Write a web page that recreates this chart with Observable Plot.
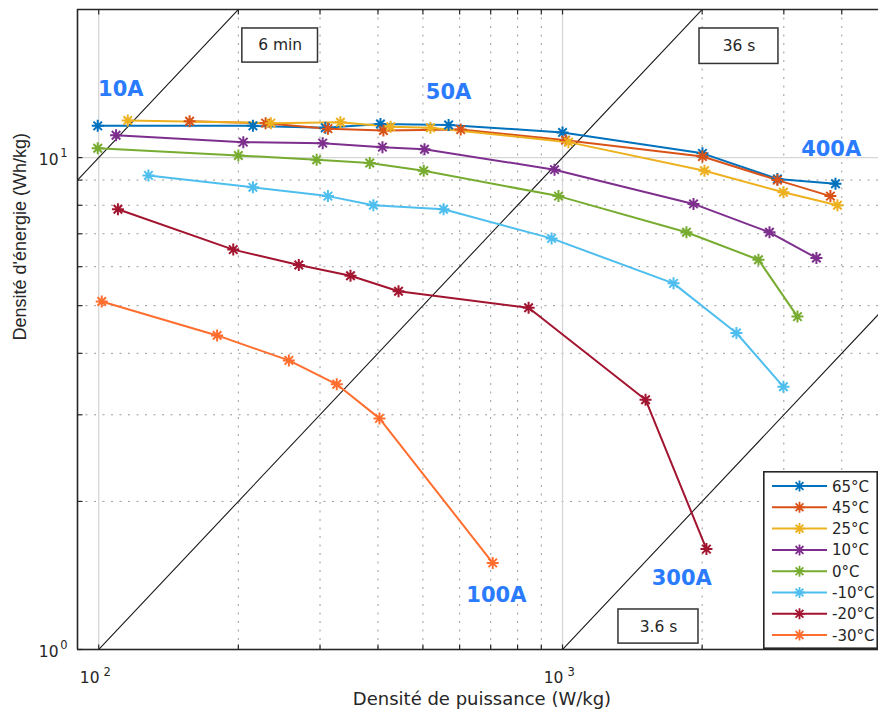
<!DOCTYPE html>
<html><head><meta charset="utf-8">
<script src="https://cdn.jsdelivr.net/npm/d3@7"></script>
<script src="https://cdn.jsdelivr.net/npm/@observablehq/plot@0.6"></script>
<style>
body{margin:0;background:#fff;}
#wrap{position:relative;width:878px;height:716px;overflow:hidden;font-family:"DejaVu Sans",sans-serif;}
#wrap svg{display:block;}
</style></head><body><div id="wrap"></div>
<script>
// ---- data ----
const seriesNames = ["65°C","45°C","25°C","10°C","0°C","-10°C","-20°C","-30°C"];
const seriesColors = ["#0072BD","#D95319","#EDB120","#7E2F8E","#77AC30","#4DBEEE","#A2142F","#FF6E2E"];

const p65 = [99.5, 215, 308, 405, 568, 1000, 2003, 2906, 3877];
const e65 = [11.6, 11.6, 11.5, 11.7, 11.65, 11.25, 10.2, 9.05, 8.85];
const p45 = [157, 229, 312, 411, 603, 1015, 2003, 2906, 3781];
const e45 = [11.85, 11.75, 11.45, 11.35, 11.4, 10.85, 10.05, 9.0, 8.35];
const p25 = [115.5, 235, 332, 426, 519, 1030, 2023, 2994, 3915];
const e25 = [11.9, 11.75, 11.8, 11.55, 11.5, 10.75, 9.4, 8.5, 8.0];
const p10 = [109, 205, 304, 409, 504, 961, 1916, 2794, 3527];
const e10 = [11.1, 10.75, 10.7, 10.5, 10.4, 9.45, 8.05, 7.05, 6.25];
const p0 = [99.5, 200, 295, 384, 502, 980, 1850, 2645, 3210];
const e0 = [10.45, 10.1, 9.9, 9.75, 9.4, 8.35, 7.05, 6.2, 4.75];
const pm10 = [128, 215, 312, 391, 554, 947, 1735, 2371, 2994];
const em10 = [9.2, 8.7, 8.35, 8.0, 7.85, 6.85, 5.55, 4.4, 3.42];
const pm20 = [110, 195, 270, 349, 443, 845, 1510, 2043];
const em20 = [7.85, 6.5, 6.05, 5.75, 5.35, 4.95, 3.22, 1.6];
const pm30 = [101.5, 180, 257, 326, 403, 707];
const em30 = [5.1, 4.35, 3.87, 3.46, 2.95, 1.5];

const powers = [p65, p45, p25, p10, p0, pm10, pm20, pm30];
const energies = [e65, e45, e25, e10, e0, em10, em20, em30];

// iso-duration lines (hours): 6 min, 36 s, 3.6 s
const timeHours = [0.1, 0.01, 0.001];
const boxLabels = ["6 min", "36 s", "3.6 s"];
const boxP1 = [204, 1974, 1320];
const boxP2 = [297, 2921, 1964];
const boxE1 = [15.6, 15.5, 1.028];
const boxE2 = [18.3, 18.3, 1.206];

const currentLabels = ["10A", "50A", "100A", "300A", "400A"];
const currentP = [111.6, 568, 720, 1807, 3795];
const currentE = [13.8, 13.6, 1.29, 1.395, 10.4];

const xMajor = [100, 1000];
const xMinor = [200,300,400,500,600,700,800,900,2000,3000,4000];
const yMajor = [1, 10];
const yMinor = [2,3,4,5,6,7,8,9];

const xLabel = "Densité de puissance (W/kg)";
const yLabel = "Densité d'énergie (Wh/kg)";

// ---- tables ----
const rows = seriesNames.flatMap((s, i) => powers[i].map((p, j) => ({series: s, P: p, E: energies[i][j]})));
const xDomain = [90, 4800];
const timeRows = timeHours.flatMap(t => xDomain.map(p => ({t, P: p, E: t * p})));
const boxes = boxLabels.map((l, i) => ({label: l, x1: boxP1[i], x2: boxP2[i], y1: boxE1[i], y2: boxE2[i]}));
const currents = currentLabels.map((l, i) => ({label: l, P: currentP[i], E: currentE[i]}));

const asterisk8 = {
  draw(ctx, size) {
    const r = Math.sqrt(size / Math.PI), d = r * Math.SQRT1_2;
    ctx.moveTo(-r, 0); ctx.lineTo(r, 0);
    ctx.moveTo(0, -r); ctx.lineTo(0, r);
    ctx.moveTo(-d, -d); ctx.lineTo(d, d);
    ctx.moveTo(-d, d); ctx.lineTo(d, -d);
  }
};
const tickUp = {draw(c){ c.moveTo(0,0); c.lineTo(0,-5); }};
const tickDown = {draw(c){ c.moveTo(0,0); c.lineTo(0,5); }};
const tickRight = {draw(c){ c.moveTo(0,0); c.lineTo(5,0); }};

const axisColor = "#262626";
const sans = '"DejaVu Sans", sans-serif';
const allX = xMajor.concat(xMinor);
const allY = yMajor.concat(yMinor);

const chart = Plot.plot({
  width: 878, height: 716,
  marginLeft: 77, marginTop: 9, marginRight: 0, marginBottom: 67,
  x: {type: "log", domain: xDomain},
  y: {type: "log", domain: [1, 20]},
  color: {domain: seriesNames, range: seriesColors},
  style: {fontFamily: sans, fontSize: "14px", color: axisColor, background: "white"},
  marks: [
    Plot.ruleX(xMinor, {stroke: "#9a9a9a", strokeWidth: 1, strokeDasharray: "2,6.5"}),
    Plot.ruleY(yMinor, {stroke: "#9a9a9a", strokeWidth: 1, strokeDasharray: "2,6.5"}),
    Plot.ruleX(xMajor, {stroke: "#d6d6d6", strokeWidth: 1.3}),
    Plot.ruleY(yMajor, {stroke: "#d6d6d6", strokeWidth: 1.3}),
    Plot.line(timeRows, {x: "P", y: "E", z: "t", stroke: "#1a1a1a", strokeWidth: 1.1, clip: true}),
    Plot.line(rows, {x: "P", y: "E", z: "series", stroke: "series", strokeWidth: 2}),
    Plot.dot(rows, {x: "P", y: "E", stroke: "series", fill: "none", symbol: asterisk8, r: 6, strokeWidth: 2}),
    Plot.rect(boxes, {x1: "x1", x2: "x2", y1: "y1", y2: "y2", fill: "white", stroke: "#333", strokeWidth: 1.5}),
    Plot.text(boxes, {x: d => Math.sqrt(d.x1 * d.x2), y: d => Math.sqrt(d.y1 * d.y2), text: "label", fontSize: 15.5, fill: axisColor}),
    Plot.text(currents, {x: "P", y: "E", text: "label", fill: "#2b7bff", fontSize: 21, fontWeight: "bold"}),
    // frame lines
    Plot.ruleX([xDomain[0]], {stroke: axisColor, strokeWidth: 1.6}),
    Plot.ruleY([1], {stroke: axisColor, strokeWidth: 1.6}),
    Plot.ruleY([20], {stroke: axisColor, strokeWidth: 1.6}),
    // inward ticks
    Plot.dot(allX, {x: d => d, frameAnchor: "bottom", symbol: tickUp, stroke: axisColor, fill: "none", strokeWidth: 1.2}),
    Plot.dot(allX, {x: d => d, frameAnchor: "top", symbol: tickDown, stroke: axisColor, fill: "none", strokeWidth: 1.2}),
    Plot.dot(allY, {y: d => d, frameAnchor: "left", symbol: tickRight, stroke: axisColor, fill: "none", strokeWidth: 1.2}),
    // tick labels with exponents
    Plot.axisX({anchor: "bottom", ticks: xMajor, tickSize: 0, tickPadding: 22.5, tickFormat: () => "10", dx: -9, fontSize: 15.5, fill: axisColor, label: null}),
    Plot.axisX({anchor: "bottom", ticks: xMajor, tickSize: 0, tickPadding: 22.5, tickFormat: d => String(Math.round(Math.log10(d))), dx: 8.5, dy: -4.5, fontSize: 11.5, fill: axisColor, label: null}),
    Plot.axisY({anchor: "left", ticks: yMajor, tickSize: 0, tickPadding: 19, tickFormat: () => "10", dy: 2.5, fontSize: 15.5, fill: axisColor, label: null}),
    Plot.axisY({anchor: "left", ticks: yMajor, tickSize: 0, tickPadding: 10, tickFormat: d => String(Math.round(Math.log10(d))), dy: -4, fontSize: 11.5, fill: axisColor, label: null}),
    // axis titles
    Plot.text([xLabel], {frameAnchor: "bottom", text: d => d, dx: 4, dy: 55, fontSize: 18, fill: axisColor}),
    Plot.text([yLabel], {frameAnchor: "left", text: d => d, rotate: -90, dx: -57, dy: 11, fontSize: 18, fontFamily: '"Liberation Sans", Arial, sans-serif', fill: axisColor})
  ]
});
document.getElementById("wrap").appendChild(chart);

// ---- legend (inside plot, bottom-right) ----
const leg = d3.select("#wrap").append("svg")
  .attr("width", 115).attr("height", 178)
  .style("position", "absolute").style("left", "763px").style("top", "471px");
leg.append("rect").attr("x", 0.8).attr("y", 0.8).attr("width", 113.4).attr("height", 176.4)
  .attr("fill", "white").attr("stroke", axisColor).attr("stroke-width", 1.6);
const starPath = d3.symbol(asterisk8, Math.PI * 5.5 * 5.5)();
seriesNames.forEach((s, i) => {
  const y = 15 + i * 21.3;
  const g = leg.append("g");
  g.append("line").attr("x1", 9).attr("x2", 64).attr("y1", y).attr("y2", y)
    .attr("stroke", seriesColors[i]).attr("stroke-width", 2);
  g.append("path").attr("d", starPath).attr("transform", `translate(36.5,${y})`)
    .attr("fill", "none").attr("stroke", seriesColors[i]).attr("stroke-width", 1.8);
  g.append("text").attr("x", 69).attr("y", y + 5.5).text(s)
    .attr("font-size", 15).attr("fill", axisColor)
    .attr("font-family", sans);
});
</script>
</body></html>
